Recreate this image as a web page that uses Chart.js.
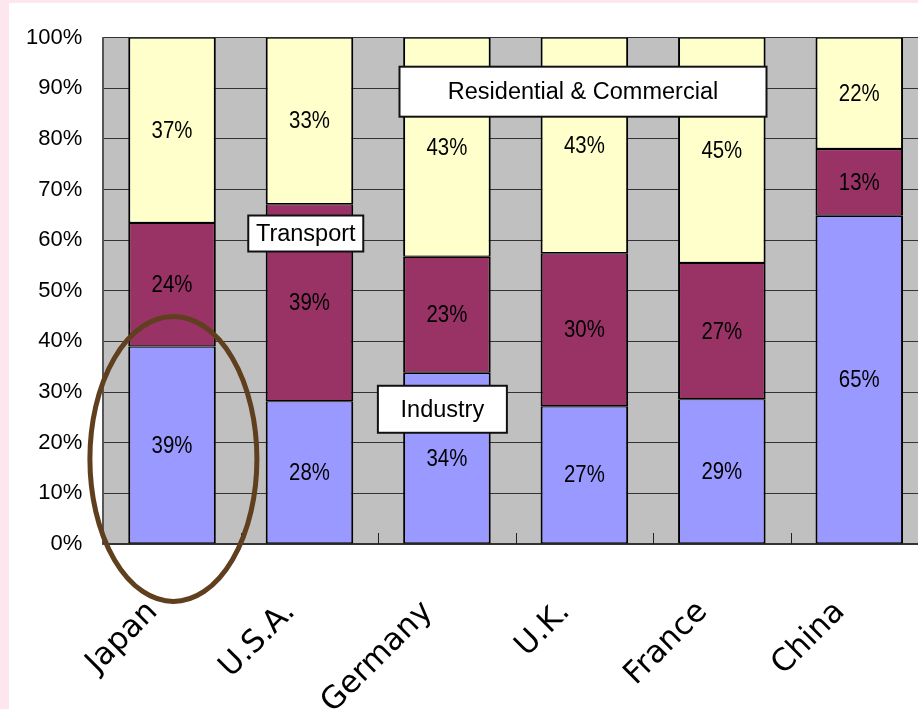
<!DOCTYPE html>
<html>
<head>
<meta charset="utf-8">
<script src="https://cdn.jsdelivr.net/npm/chart.js@4.4.1/dist/chart.umd.min.js"></script>
<style>
html, body { margin: 0; padding: 0; background: #fde6ee; overflow: hidden; }
#box { position: absolute; left: 9px; top: 3px; width: 920px; height: 706px; background: #fff; overflow: hidden; }
canvas { display: block; }
</style>
</head>
<body>
<div id="box"><canvas id="myChart" width="930" height="706"></canvas></div>
<script>
// energy use share by sector
const countries = ['Japan', 'U.S.A.', 'Germany', 'U.K.', 'France', 'China'];
const industry = [39.0, 28.2, 33.8, 27.2, 28.6, 64.8];
const transport = [24.4, 38.9, 22.9, 30.2, 26.9, 13.2];
const residential = [36.6, 32.9, 43.3, 42.6, 44.5, 22.0];
const industryText = ['39%', '28%', '34%', '27%', '29%', '65%'];
const transportText = ['24%', '39%', '23%', '30%', '27%', '13%'];
const residentialText = ['37%', '33%', '43%', '43%', '45%', '22%'];
const sectorNames = ['Industry', 'Transport', 'Residential & Commercial'];

const numFont = "'Liberation Sans', sans-serif";

// callout boxes: x = category index, y = value on the % axis
const callouts = [
    { text: sectorNames[2], x: 2.99, y: 89.3, w: 367, h: 50 },
    { text: sectorNames[1], x: 0.973, y: 61.3, w: 115, h: 36 },
    { text: sectorNames[0], x: 1.967, y: 26.6, w: 129, h: 47 }
];

const extras = {
    id: 'extras',
    beforeDraw(chart) {
        const a = chart.chartArea;
        const ctx = chart.ctx;
        ctx.save();
        ctx.fillStyle = '#c0c0c0';
        ctx.fillRect(a.left, a.top, a.right - a.left, a.bottom - a.top);
        ctx.restore();
    },
    beforeDatasetsDraw(chart) {
        // little ticks between the categories, pointing up from the axis
        const ctx = chart.ctx;
        const xs = chart.scales.x;
        const a = chart.chartArea;
        ctx.save();
        ctx.strokeStyle = '#222';
        ctx.lineWidth = 1;
        for (let i = 0; i <= countries.length; i++) {
            let px = Math.round(xs.getPixelForValue(i - 0.5)) + 0.5;
            ctx.beginPath();
            ctx.moveTo(px, a.bottom);
            ctx.lineTo(px, a.bottom - 11);
            ctx.stroke();
        }
        ctx.restore();
    },
    afterDatasetsDraw(chart) {
        const ctx = chart.ctx;
        chart.data.datasets.forEach((ds, i) => {
            chart.getDatasetMeta(i).data.forEach((el, j) => {
                const p = el.getCenterPoint();
                ctx.save();
                ctx.translate(p.x, p.y + 1);
                ctx.scale(0.85, 1);
                ctx.font = '24px ' + numFont;
                ctx.fillStyle = '#000';
                ctx.textAlign = 'center';
                ctx.textBaseline = 'middle';
                ctx.fillText(ds.texts[j], 0, 0);
                ctx.restore();
            });
        });
    },
    afterDraw(chart) {
        const ctx = chart.ctx;
        const xs = chart.scales.x;
        const ys = chart.scales.y;
        ctx.save();
        callouts.forEach(c => {
            const cx = xs.getPixelForValue(c.x);
            const cy = ys.getPixelForValue(c.y);
            ctx.fillStyle = '#fff';
            ctx.strokeStyle = '#111';
            ctx.lineWidth = 2;
            ctx.fillRect(cx - c.w / 2, cy - c.h / 2, c.w, c.h);
            ctx.strokeRect(cx - c.w / 2, cy - c.h / 2, c.w, c.h);
            ctx.fillStyle = '#000';
            ctx.font = '23.5px "Liberation Sans", sans-serif';
            ctx.textAlign = 'center';
            ctx.textBaseline = 'middle';
            ctx.fillText(c.text, cx, cy + 1);
        });
        // the brown ring round Japan
        const ex = xs.getPixelForValue(0.01);
        const ey = ys.getPixelForValue(16.8);
        ctx.beginPath();
        ctx.ellipse(ex, ey, 83.5, 142.5, 0, 0, Math.PI * 2);
        ctx.strokeStyle = '#603f1e';
        ctx.lineWidth = 5;
        ctx.stroke();
        ctx.restore();
    }
};

const data = {
    labels: countries,
    datasets: [
        { label: sectorNames[0], data: industry, texts: industryText, backgroundColor: '#9999ff' },
        { label: sectorNames[1], data: transport, texts: transportText, backgroundColor: '#993366' },
        { label: sectorNames[2], data: residential, texts: residentialText, backgroundColor: '#ffffcc' }
    ]
};
data.datasets.forEach(ds => {
    ds.borderColor = '#000';
    ds.borderWidth = { left: 2, right: 2, top: 1.2, bottom: 1.2 };
    ds.borderSkipped = false;
    ds.barPercentage = 0.637;
    ds.categoryPercentage = 1;
});

const config = {
    type: 'bar',
    data: data,
    options: {
        responsive: false,
        animation: false,
        layout: { padding: { top: 34.5, right: 11, left: 0, bottom: 0 } },
        plugins: { legend: { display: false }, tooltip: { enabled: false } },
        scales: {
            x: {
                stacked: true,
                grid: { display: false },
                border: { display: true, color: '#333', width: 2 },
                ticks: {
                    autoSkip: false,
                    maxRotation: 45,
                    minRotation: 45,
                    padding: 42,
                    labelOffset: -19,
                    color: '#000',
                    font: { family: "'DejaVu Sans', sans-serif", size: 31 }
                },
                afterFit(scale) { scale.height = 165; }
            },
            y: {
                stacked: true,
                min: 0,
                max: 100,
                grid: { color: '#333', lineWidth: 1, drawTicks: false },
                border: { display: true, color: '#555', width: 2 },
                ticks: {
                    stepSize: 10,
                    padding: 21,
                    color: '#000',
                    font: { family: numFont, size: 22 },
                    callback: v => v + '%'
                },
                afterFit(scale) { scale.width = 94.3; }
            }
        }
    },
    plugins: [extras]
};

let myChart = new Chart(document.getElementById('myChart').getContext('2d'), config);
</script>
</body>
</html>
